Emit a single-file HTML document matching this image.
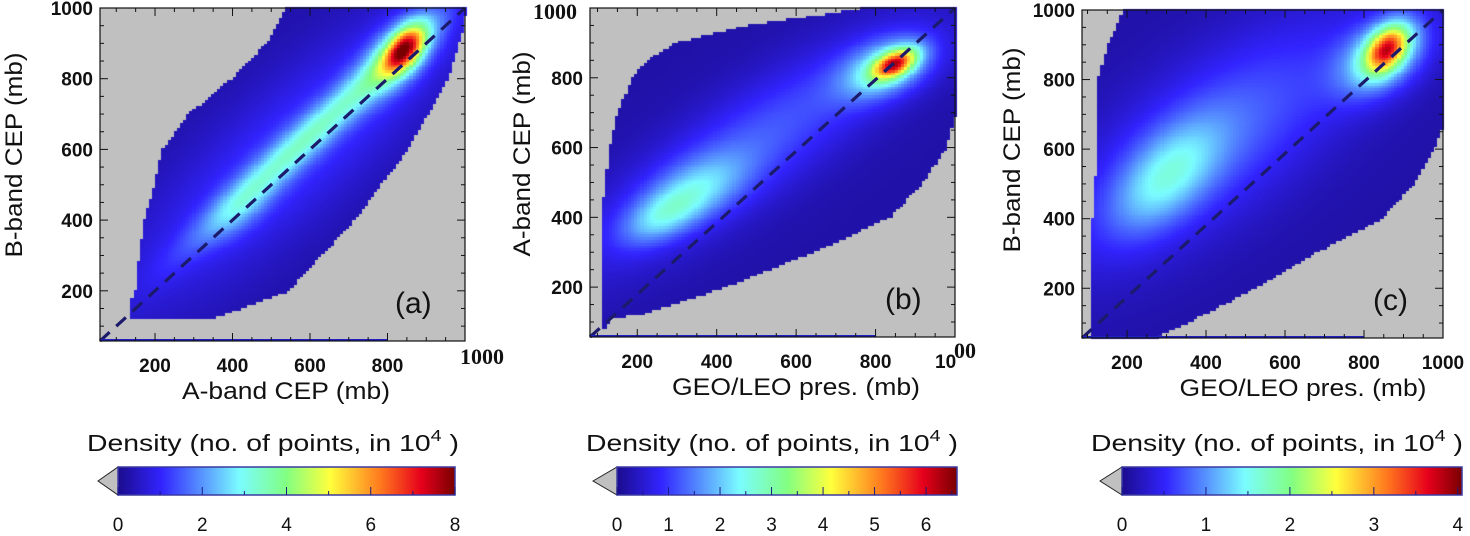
<!DOCTYPE html>
<html><head><meta charset="utf-8">
<style>
html,body{margin:0;padding:0;background:#fff;}
#wrap{position:relative;width:1470px;height:536px;overflow:hidden;}
canvas{position:absolute;left:0;top:0;}
svg{position:absolute;left:0;top:0;}
text{font-family:"Liberation Sans",sans-serif;}
</style></head>
<body>
<div id="wrap">
<canvas id="cv" width="1470" height="536"></canvas>
<svg id="sv" width="1470" height="536"></svg>
</div>
<script>
// ---- data ----
const panelNames = ["a","b","c"];
const xTitles = ["A-band CEP (mb)","GEO/LEO pres. (mb)","GEO/LEO pres. (mb)"];
const yTitles = ["B-band CEP (mb)","A-band CEP (mb)","B-band CEP (mb)"];
const axisTicks = [200,400,600,800,1000];
const xMins = [58,81,86];
const yMins = [58,57,57];
const cbMax = [8,6.6,4.05];
const cbTicksA = [0,2,4,6,8];
const cbTicksB = [0,1,2,3,4,5,6];
const cbTicksC = [0,1,2,3,4];
// support boundaries (data coords)
const boundA = [[135,123],[135,160],[150,200],[160,300],[174,400],[200,500],[221,600],[290,700],[401,800],[489,900],[540,1000],[1000,1000],[995,950],[953,800],[849,600],[711,400],[540,200],[350,123]];
const boundB = [[111,70],[111,400],[132,600],[152,700],[190,800],[225,850],[301,900],[486,950],[782,1000],[1000,1000],[1000,700],[975,600],[916,500],[833,400],[638,300],[418,200],[215,125],[130,110]];
const boundC = [[114,60],[114,400],[127,600],[127,800],[152,900],[175,950],[190,1000],[1000,1000],[1000,680],[975,600],[924,500],[840,400],[671,300],[519,200],[401,130],[291,70],[280,60]];
// density components: [cx, cy, amp, sx, sy, rho]
const blobsA = [[845,885,0.55,36,46,0.5],[830,870,0.28,70,80,0.6],[600,640,0.27,190,190,0.97],[420,430,0.1,60,60,0.6],[560,600,0.13,300,300,0.85]];
const blobsB = [[850,842,0.58,38,30,0.5],[830,830,0.3,80,62,0.4],[260,400,0.17,70,55,0.5],[350,480,0.17,90,70,0.5],[480,600,0.16,280,230,0.85]];
const blobsC = [[860,890,0.58,38,48,0.4],[850,870,0.3,80,80,0.4],[300,520,0.22,95,110,0.55],[430,640,0.17,260,240,0.7]];
const floorVals = [0.03,0.03,0.03];

const geom = [
 {x0:100,x1:465,y0:8,y1:341},
 {x0:590,x1:955,y0:8,y1:337},
 {x0:1082,x1:1443,y0:10,y1:338}
];
const bounds=[boundA,boundB,boundC], blobs=[blobsA,blobsB,blobsC];
const cbTicks=[cbTicksA,cbTicksB,cbTicksC];
const cbGeom=[{tri:98,x0:118,x1:455},{tri:593,x0:617,x1:957},{tri:1100,x0:1122,x1:1462}];

const stops=[[0,[27,12,142]],[0.13,[50,36,255]],[0.36,[122,252,255]],[0.5,[130,255,130]],[0.63,[255,255,60]],[0.78,[255,120,30]],[0.9,[230,0,28]],[1,[120,0,0]]];
function cmap(v){v=Math.max(0,Math.min(1,v));for(let i=1;i<stops.length;i++){if(v<=stops[i][0]){const a=stops[i-1],b=stops[i],t=(v-a[0])/(b[0]-a[0]);return a[1].map((c,k)=>Math.round(c+(b[1][k]-c)*t));}}return stops[stops.length-1][1];}
function inPoly(x,y,p){let c=false;for(let i=0,j=p.length-1;i<p.length;j=i++){const xi=p[i][0],yi=p[i][1],xj=p[j][0],yj=p[j][1];if(((yi>y)!=(yj>y))&&(x<(xj-xi)*(y-yi)/(yj-yi)+xi))c=!c;}return c;}

const ctx=document.getElementById('cv').getContext('2d');
const svg=document.getElementById('sv');
const NS="http://www.w3.org/2000/svg";
function el(tag,attrs,parent){const e=document.createElementNS(NS,tag);for(const k in attrs)e.setAttribute(k,attrs[k]);(parent||svg).appendChild(e);return e;}

for(let p=0;p<3;p++){
 const g=geom[p];
 const sx=v=>g.x0+(v-xMins[p])/(1000-xMins[p])*(g.x1-g.x0);
 const sy=v=>g.y1-(v-yMins[p])/(1000-yMins[p])*(g.y1-g.y0);
 ctx.fillStyle='#c0c0c0';ctx.fillRect(g.x0,g.y0,g.x1-g.x0,g.y1-g.y0);
 const step=8;
 for(let dx=xMins[p];dx<1000;dx+=step){for(let dy=yMins[p];dy<1000;dy+=step){
  const cx=dx+step/2,cy=dy+step/2;
  if(!inPoly(cx,cy,bounds[p]))continue;
  let v=floorVals[p];
  for(const b of blobs[p]){const u=(cx-b[0])/b[3],w=(cy-b[1])/b[4],r=b[5];v+=b[2]*Math.exp(-(u*u-2*r*u*w+w*w)/(2*(1-r*r)));}
  const c=cmap(v);ctx.fillStyle=`rgb(${c[0]},${c[1]},${c[2]})`;
  const px=sx(dx),py=sy(dy+step);ctx.fillRect(Math.floor(px),Math.floor(py),Math.ceil(sx(dx+step)-px)+1,Math.ceil(sy(dy)-py)+1);
 }}
 const grp=el('g',{});
 
 
 const dl=el('line',{x1:g.x0,y1:g.y1,x2:g.x1,y2:g.y0,stroke:'#1c1a6a','stroke-width':3.2,'stroke-dasharray':'13,9'},grp);
 
 
 el('line',{x1:g.x0+1,y1:g.y1-1,x2:sx(800),y2:g.y1-1,stroke:'#2020c0','stroke-width':2},grp);
 const fr=el('rect',{x:g.x0,y:g.y0,width:g.x1-g.x0,height:g.y1-g.y0,fill:'none',stroke:'#111','stroke-width':1.2},grp);
 
 
 for(let t=100;t<=1000;t+=50){
  const maj=t%200===0,L=maj?8:4;
  if(t>=xMins[p]){const x=sx(t);el('line',{x1:x,y1:g.y1,x2:x,y2:g.y1-L,stroke:'#111'},grp);el('line',{x1:x,y1:g.y0,x2:x,y2:g.y0+L,stroke:'#111'},grp);}
  if(t>=yMins[p]){const y=sy(t);el('line',{x1:g.x0,y1:y,x2:g.x0+L,y2:y,stroke:'#111'},grp);el('line',{x1:g.x1,y1:y,x2:g.x1-L,y2:y,stroke:'#111'},grp);}
 }
 for(const t of axisTicks){
  if(!(p===0&&t===1000)&&!(p===1&&t===1000)){
   const tx=el('text',{x:sx(t),y:g.y1+31,'text-anchor':'middle','font-size':19,'font-weight':'bold',fill:'#111'},grp);tx.textContent=t;
   
   
  }
  if(!(p===1&&t===1000)){
   const ty=el('text',{x:g.x0-7,y:sy(t)+7,'text-anchor':'end','font-size':19,'font-weight':'bold',fill:'#111'},grp);ty.textContent=t;
   
   
  }
 }
 if(p===0){const t=el('text',{x:g.x1-5,y:g.y1+23,'font-size':22,'font-weight':'bold',fill:'#111'},grp);t.setAttribute('style','font-family:"Liberation Serif",serif');t.textContent='1000';}
 if(p===1){
  const t=el('text',{x:g.x0-57,y:g.y0+11,'font-size':22,'font-weight':'bold',fill:'#111'},grp);t.setAttribute('style','font-family:"Liberation Serif",serif');t.textContent='1000';
  const t2=el('text',{x:g.x1-20,y:g.y1+31,'font-size':19,'font-weight':'bold',fill:'#111'},grp);t2.textContent='10';
  const t3=el('text',{x:g.x1-1,y:g.y1+21,'font-size':22,'font-weight':'bold',fill:'#111'},grp);t3.setAttribute('style','font-family:"Liberation Serif",serif');t3.textContent='00';
 }
 const xc=[286,796,1303][p];
 const xt=el('text',{x:xc,y:g.y1+58,'text-anchor':'middle','font-size':24,fill:'#111',textLength:[208,248,247][p],lengthAdjust:'spacingAndGlyphs'},grp);xt.textContent=xTitles[p];
 
 
 const yx=[22,530,1020][p];
 const yc=[155,154,150][p];
 const yt=el('text',{x:yx,y:yc,'text-anchor':'middle','font-size':24,fill:'#111',textLength:205,lengthAdjust:'spacingAndGlyphs',transform:`rotate(-90 ${yx} ${yc})`},grp);yt.textContent=yTitles[p];
 
 
 const pl=el('text',{x:g.x1-70,y:g.y1-28,'font-size':30,fill:'#111'},grp);pl.textContent='('+panelNames[p]+')';
 
 

 // colorbar
 const cb=cbGeom[p];
 const cg=el('g',{});
 
 
 const gid='grad'+p;
 const lg=el('linearGradient',{id:gid,x1:0,x2:1,y1:0,y2:0},cg);
 for(const s of stops){el('stop',{offset:s[0],'stop-color':`rgb(${s[1].join(',')})`},lg);}
 el('polygon',{points:`${cb.tri},481 ${cb.x0},467 ${cb.x0},495`,fill:'#c0c0c0',stroke:'#222','stroke-width':1},cg);
 el('rect',{x:cb.x0,y:467,width:cb.x1-cb.x0,height:28,fill:`url(#${gid})`,stroke:'#3a3aa0','stroke-width':1.5},cg);
 const cs=v=>cb.x0+v/cbMax[p]*(cb.x1-cb.x0);
 for(let v=0;v<=cbMax[p]+1e-6;v+=cbTicks[p][1]/2){el('line',{x1:cs(v),y1:495,x2:cs(v),y2:(Math.round(v/cbTicks[p][1]*2)%2===0)?487:491,stroke:'#1a1a80','stroke-width':1},cg);}
 for(const v of cbTicks[p]){const t=el('text',{x:cs(v),y:531,'text-anchor':'middle','font-size':19,fill:'#111'},cg);t.textContent=v;
  
  }
 const tt=el('text',{x:cb.x0-31,y:451,'font-size':23,fill:'#111',textLength:372,lengthAdjust:'spacingAndGlyphs'},cg);
 tt.innerHTML='Density (no. of points, in 10<tspan dy="-10" font-size="16">4</tspan><tspan dy="10"> )</tspan>';
 
 
}
</script>
</body></html>
